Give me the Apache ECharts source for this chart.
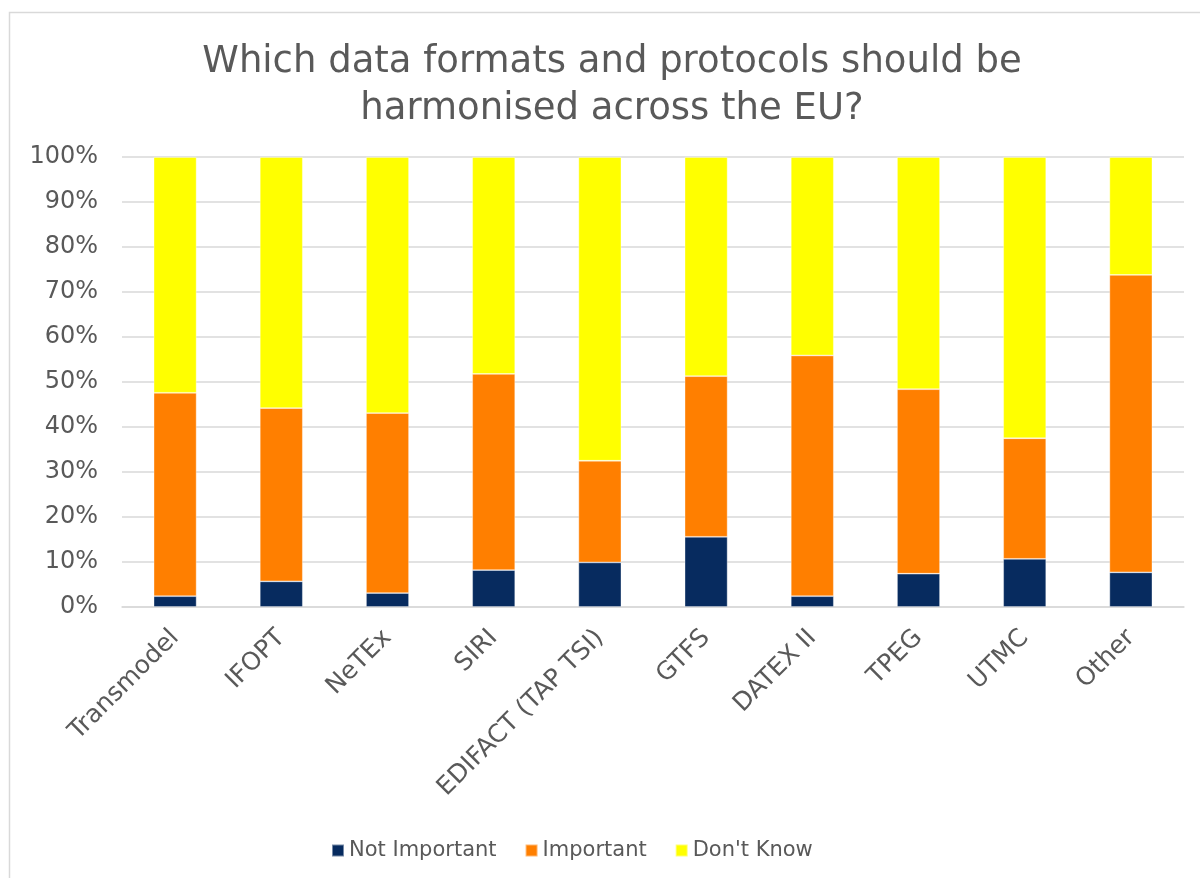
<!DOCTYPE html>
<html>
<head>
<meta charset="utf-8">
<script src="https://cdn.jsdelivr.net/npm/echarts@6/dist/echarts.min.js"></script>
<style>html,body{margin:0;padding:0;background:#fff}#c{width:1200px;height:878px}</style>
</head>
<body>
<div id="c"></div>
<script>
const categories = ['Transmodel','IFOPT','NeTEx','SIRI','EDIFACT (TAP TSI)','GTFS','DATEX II','TPEG','UTMC','Other'];
const notImportant = [2.4, 5.7, 3.1, 8.2, 9.9, 15.6, 2.4, 7.4, 10.7, 7.7];
const important = [45.2, 38.5, 40.0, 43.6, 22.6, 35.7, 53.5, 41.0, 26.8, 66.1];
const dontKnow = [52.4, 55.8, 56.9, 48.2, 67.5, 48.7, 44.1, 51.6, 62.5, 26.2];
const seriesNames = ['Not Important', 'Important', "Don't Know"];
const titleText = 'Which data formats and protocols should be\nharmonised across the EU?';

const FONT = 'DejaVu Sans';
const TXT = '#595959';
const chart = echarts.init(document.getElementById('c'), null, {renderer: 'canvas'});
const mk = (name, data, color) => ({
  name, type: 'bar', stack: 'total', data, barWidth: 43,
  itemStyle: {color, borderColor: 'rgba(255,255,255,0.45)', borderWidth: 0.8},
  emphasis: {disabled: true}
});
chart.setOption({
  animation: false,
  backgroundColor: '#fff',
  graphic: [{type: 'rect', shape: {x: 9.5, y: 12.5, width: 1300, height: 1000},
    style: {fill: 'none', stroke: '#d9d9d9', lineWidth: 1.5}, silent: true, z: -1}],
  title: {
    text: titleText, left: 607, top: 34, textAlign: 'center',
    textStyle: {fontFamily: FONT, fontSize: 37, fontWeight: 'normal', color: TXT, lineHeight: 47}
  },
  legend: {
    left: 326, top: 835, itemWidth: 12, itemHeight: 12, itemGap: 28,
    icon: 'rect',
    textStyle: {fontFamily: FONT, fontSize: 21, color: TXT},
    data: seriesNames
  },
  grid: {left: 122, right: 16, top: 157, bottom: 271, containLabel: false},
  xAxis: {
    type: 'category', data: categories,
    axisLine: {lineStyle: {color: '#d9d9d9', width: 1.5}},
    axisTick: {show: false},
    axisLabel: {rotate: 45, interval: 0, margin: 27, fontFamily: FONT, fontSize: 25, color: TXT}
  },
  yAxis: {
    type: 'value', min: 0, max: 100, interval: 10,
    axisLine: {show: false}, axisTick: {show: false},
    splitLine: {lineStyle: {color: '#d9d9d9', width: 1.5}},
    axisLabel: {formatter: '{value}%', margin: 24, fontFamily: FONT, fontSize: 24, color: TXT}
  },
  series: [
    mk(seriesNames[0], notImportant, '#072B5F'),
    mk(seriesNames[1], important, '#FF7F00'),
    mk(seriesNames[2], dontKnow, '#FFFF00')
  ]
});
</script>
</body>
</html>
